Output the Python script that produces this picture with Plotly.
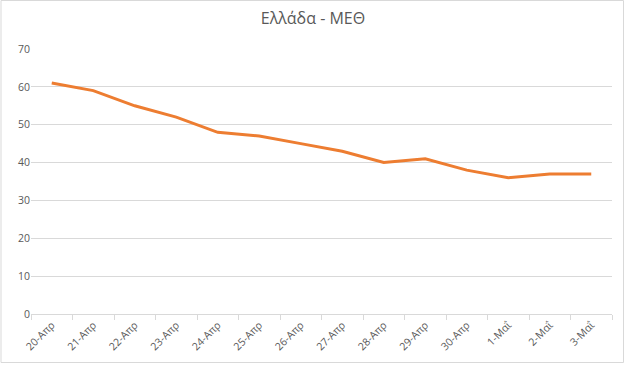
import plotly.graph_objects as go

categories = ["20-Απρ", "21-Απρ", "22-Απρ", "23-Απρ", "24-Απρ", "25-Απρ", "26-Απρ",
              "27-Απρ", "28-Απρ", "29-Απρ", "30-Απρ", "1-Μαΐ", "2-Μαΐ", "3-Μαΐ"]
values = [61, 59, 55, 52, 48, 47, 45, 43, 40, 41, 38, 36, 37, 37]
y_ticks = [0, 10, 20, 30, 40, 50, 60, 70]

W, H = 626, 365
ml, mr, mt, mb = 31, 14, 49, 51
pw, ph = W - ml - mr, H - mt - mb

fig = go.Figure()
fig.add_trace(go.Scatter(x=categories, y=values, mode="lines",
                         line=dict(color="#ED7D31", width=3), hoverinfo="x+y"))

fig.update_layout(
    width=W, height=H,
    margin=dict(l=ml, r=mr, t=mt, b=mb, autoexpand=False),
    paper_bgcolor="white", plot_bgcolor="white",
    font=dict(family="Open Sans, Noto Sans, sans-serif", color="#595959", size=10),
    title=dict(text="Ελλάδα - ΜΕΘ", x=0.5, xanchor="center", y=1 - 18 / H, yanchor="middle",
               font=dict(size=16, color="#595959")),
    showlegend=False,
    xaxis=dict(type="category", range=[-0.5, len(categories) - 0.5], automargin=False,
               showgrid=False, showline=True, linecolor="#D9D9D9", linewidth=1,
               ticks="outside", tickson="boundaries", ticklen=5, tickcolor="#D9D9D9",
               tickangle=-45, tickfont=dict(size=10.5, color="#595959")),
    yaxis=dict(range=[0, 70], tickvals=y_ticks, showgrid=True, gridcolor="#D9D9D9",
               gridwidth=1, zeroline=False, showline=False, ticks="", automargin=False,
               tickfont=dict(size=10.5, color="#595959")),
    shapes=[dict(type="rect", xref="paper", yref="paper",
                 x0=-(ml - 1.0) / pw, x1=1 + (mr - 2.5) / pw,
                 y0=-(mb - 2.5) / ph, y1=1 + (mt - 0.5) / ph,
                 line=dict(color="#D9D9D9", width=1), layer="below")],
)

fig.write_html("out.html", config={"responsive": False, "displayModeBar": False},
               post_script="document.body.style.margin='0';document.body.style.overflow='hidden';")
